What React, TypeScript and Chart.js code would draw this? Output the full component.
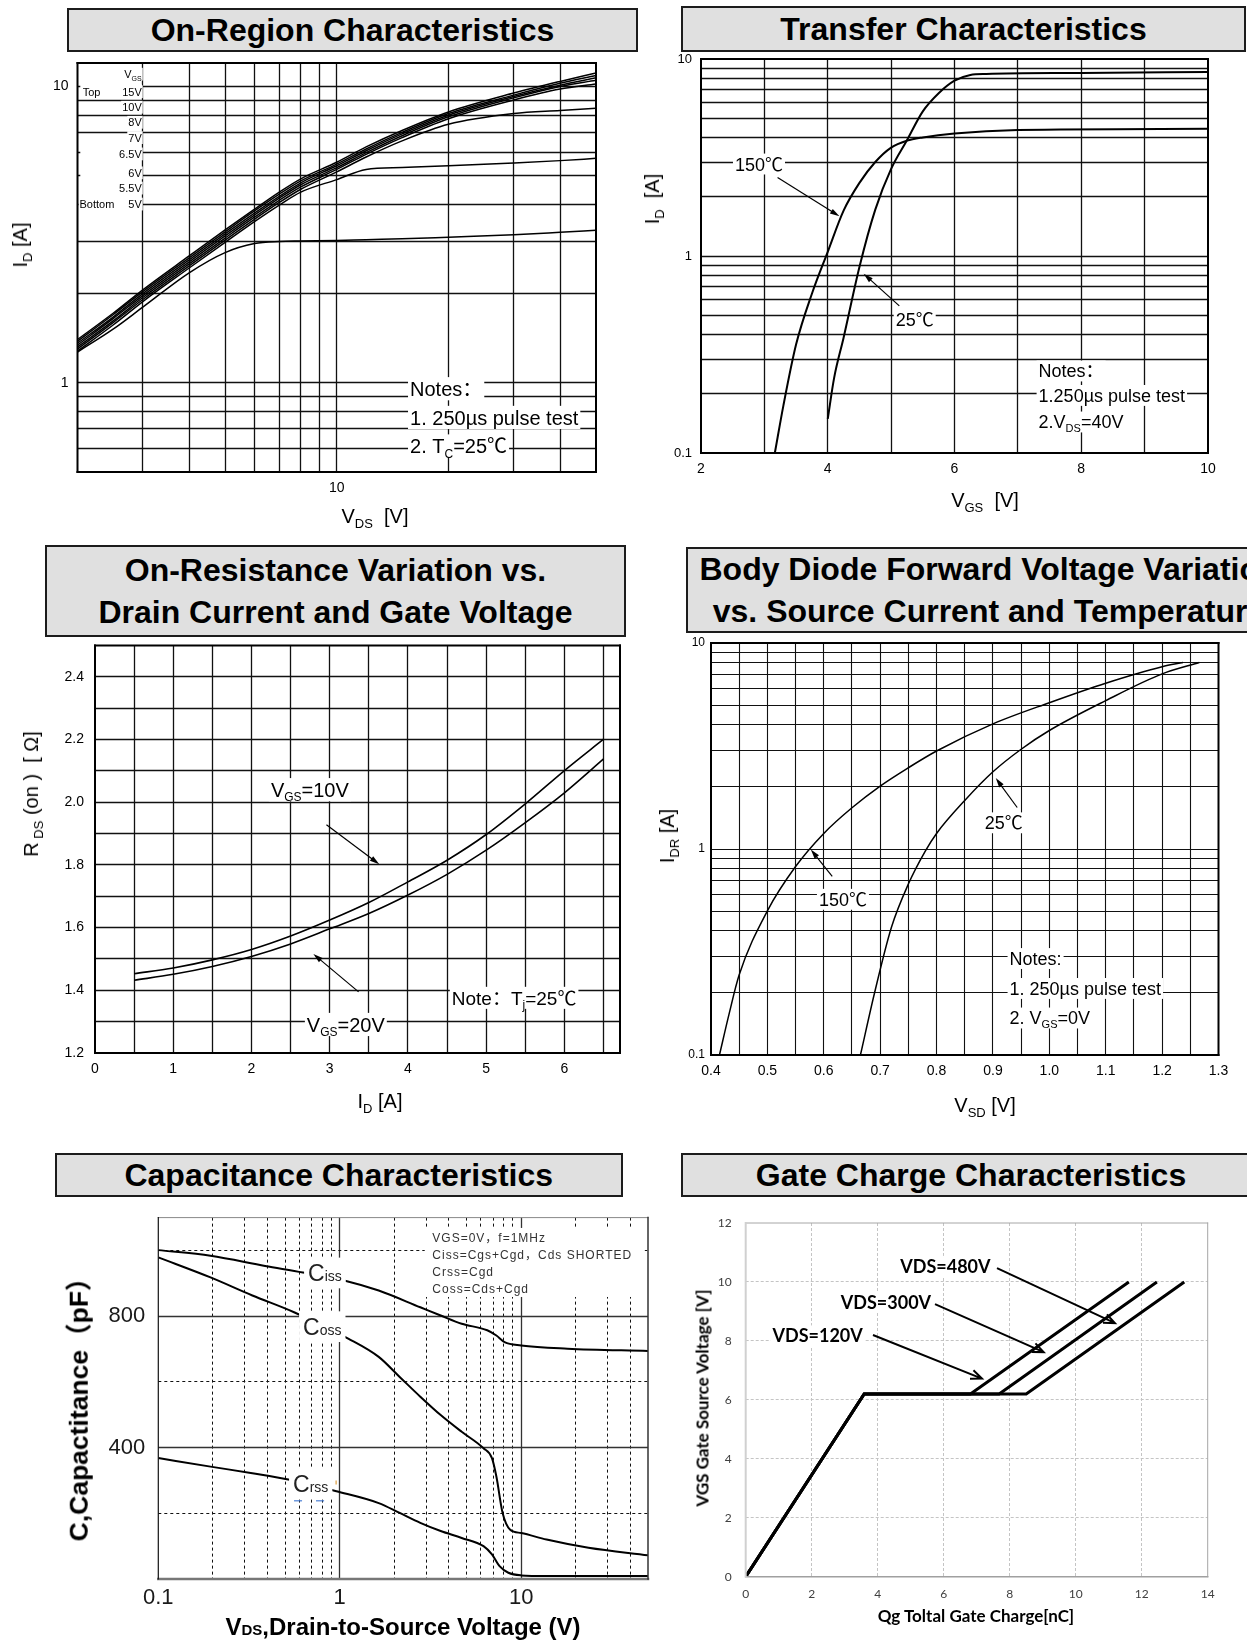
import React, { useEffect, useRef } from 'react';
import { Chart, registerables } from 'chart.js';

Chart.register(...registerables);

const ARIAL = "'Liberation Sans', Arial, Helvetica, 'Noto Sans CJK SC', sans-serif";
const LATO = "Lato, 'Open Sans', 'Liberation Sans', sans-serif";

// ================= DATA =================
// 1. On-Region Characteristics (log-log)
const onRegionVds = [2, 2.5, 3, 4, 5, 6, 7, 8, 10, 12, 15, 20, 30, 40, 50];
const onRegionId15V = [1.4, 1.72, 2.06, 2.68, 3.28, 3.85, 4.4, 4.88, 5.55, 6.25, 7.1, 8.2, 9.5, 10.4, 11.1];
const onRegionId10V = [1.38, 1.7, 2.03, 2.64, 3.23, 3.8, 4.33, 4.8, 5.47, 6.15, 7.0, 8.1, 9.35, 10.25, 10.9];
const onRegionId8V = [1.36, 1.67, 2.0, 2.6, 3.18, 3.74, 4.26, 4.73, 5.4, 6.07, 6.92, 8.0, 9.25, 10.1, 10.7];
const onRegionId7V = [1.34, 1.65, 1.97, 2.56, 3.13, 3.68, 4.2, 4.66, 5.32, 5.98, 6.82, 7.9, 9.15, 10.0, 10.5];
const onRegionId6V5 = [1.32, 1.62, 1.94, 2.52, 3.08, 3.62, 4.13, 4.58, 5.25, 5.9, 6.72, 7.78, 9.0, 9.8, 10.2];
const onRegionId6V = [1.3, 1.6, 1.91, 2.48, 3.03, 3.56, 4.06, 4.5, 5.15, 5.78, 6.55, 7.45, 8.1, 8.3, 8.45];
const onRegionId5V5 = [1.28, 1.57, 1.88, 2.44, 2.98, 3.5, 3.98, 4.4, 4.85, 5.25, 5.33, 5.4, 5.52, 5.62, 5.72];
const onRegionId5V = [1.27, 1.52, 1.8, 2.35, 2.75, 2.95, 3.0, 3.01, 3.02, 3.04, 3.06, 3.1, 3.16, 3.22, 3.27];
const onRegionXTicks = [10];
const onRegionYTicks = [1, 10];
const onRegionXGrid = [3, 4, 5, 6, 7, 8, 9, 10, 20, 30, 40];
const onRegionYGrid = [0.6, 0.7, 0.8, 0.9, 1, 2, 3, 4, 5, 6, 7, 8, 9, 10];

// 2. Transfer Characteristics
const transferVgs150 = [3.165, 3.3, 3.5, 3.75, 4.0, 4.25, 4.5, 4.75, 5.0, 5.25, 5.5, 6.0, 7.0, 10.0];
const transferId150 = [0.1, 0.174, 0.355, 0.643, 1.05, 1.7, 2.35, 3.0, 3.55, 3.85, 4.0, 4.19, 4.36, 4.42];
const transferVgs25 = [4.0, 4.1, 4.25, 4.5, 4.75, 5.0, 5.25, 5.5, 5.75, 6.0, 6.25, 6.5, 8.0, 10.0];
const transferId25 = [0.149, 0.24, 0.385, 0.88, 1.72, 2.77, 3.87, 5.42, 6.7, 7.76, 8.3, 8.4, 8.5, 8.6];
const transferXTicks = [2, 4, 6, 8, 10];
const transferYTicks = [0.1, 1, 10];
const transferXGrid = [3, 4, 5, 6, 7, 8, 9];
const logMinorGrid = [0.2, 0.3, 0.4, 0.5, 0.6, 0.7, 0.8, 0.9, 1, 2, 3, 4, 5, 6, 7, 8, 9];

// 3. On-Resistance vs Drain Current
const rdsId = [0.5, 1, 1.5, 2, 2.5, 3, 3.5, 4, 4.5, 5, 5.5, 6, 6.5];
const rdsVgs10 = [1.453, 1.471, 1.497, 1.53, 1.573, 1.624, 1.68, 1.746, 1.815, 1.897, 1.995, 2.101, 2.201];
const rdsVgs20 = [1.432, 1.451, 1.476, 1.508, 1.548, 1.596, 1.645, 1.704, 1.77, 1.847, 1.935, 2.03, 2.138];
const rdsXTicks = [0, 1, 2, 3, 4, 5, 6];
const rdsYTicks = [1.2, 1.4, 1.6, 1.8, 2.0, 2.2, 2.4];
const rdsXGrid = [0.5, 1, 1.5, 2, 2.5, 3, 3.5, 4, 4.5, 5, 5.5, 6, 6.5];
const rdsYGrid = [1.3, 1.4, 1.5, 1.6, 1.7, 1.8, 1.9, 2.0, 2.1, 2.2, 2.3, 2.4];

// 4. Body Diode Forward Voltage
const diodeVsd150 = [0.415, 0.432, 0.45, 0.5, 0.55, 0.6, 0.65, 0.7, 0.75, 0.8, 0.9, 1.0, 1.1, 1.2, 1.237];
const diodeIdr150 = [0.1, 0.158, 0.245, 0.501, 0.822, 1.19, 1.585, 2.02, 2.48, 2.99, 4.05, 5.13, 6.38, 7.67, 8.04];
const diodeVsd25 = [0.665, 0.69, 0.72, 0.75, 0.78, 0.8, 0.85, 0.9, 0.95, 1.0, 1.1, 1.2, 1.266];
const diodeIdr25 = [0.1, 0.2, 0.417, 0.676, 0.977, 1.19, 1.72, 2.37, 3.05, 3.76, 5.25, 7.08, 8.04];
const diodeXTicks = [0.4, 0.5, 0.6, 0.7, 0.8, 0.9, 1.0, 1.1, 1.2, 1.3];
const diodeYTicks = [0.1, 1, 10];
const diodeXGrid = [0.45, 0.5, 0.55, 0.6, 0.65, 0.7, 0.75, 0.8, 0.85, 0.9, 0.95, 1.0, 1.05, 1.1, 1.15, 1.2, 1.25];

// 5. Capacitance Characteristics
const capVdsCiss = [0.1, 0.194, 0.388, 0.626, 1.07, 1.64, 2.78, 3.6, 4.7, 6.5, 7.3, 8.1, 10, 18, 50];
const capCiss = [1001, 984, 953, 933, 908, 878, 827, 802, 777, 757, 741, 721, 711, 701, 694];
const capVdsCoss = [0.1, 0.194, 0.33, 0.56, 1.12, 1.64, 2.14, 2.78, 3.6, 4.7, 6.2, 6.9, 7.3, 7.9, 8.7, 10, 13.8, 23.5, 50];
const capCoss = [979, 918, 863, 812, 731, 676, 615, 555, 499, 448, 398, 368, 312, 201, 150, 140, 120, 95, 72];
const capVdsCrss = [0.1, 0.194, 0.33, 0.53, 0.96, 1.64, 2.14, 2.78, 3.6, 4.7, 6.2, 6.9, 7.6, 8.5, 10, 13.8, 50];
const capCrss = [368, 342, 322, 302, 267, 231, 201, 171, 146, 125, 100, 75, 39, 19, 11, 9, 9];
const capXTicks = [0.1, 1, 10];
const capYTicks = [400, 800];
const capXGridSolid = [1, 10];
const capXGridDash = [0.2, 0.3, 0.4, 0.5, 0.6, 0.7, 0.8, 0.9, 2, 3, 4, 5, 6, 7, 8, 9, 20, 30, 40];
const capYGridSolid = [400, 800];
const capYGridDash = [200, 600, 1000];

// 6. Gate Charge Characteristics
const gateQg120 = [0, 3.59, 6.81, 11.61];
const gateQg300 = [0, 3.59, 7.68, 12.46];
const gateQg480 = [0, 3.59, 8.5, 13.29];
const gateVgs = [0, 6.2, 6.2, 10];
const gateXTicks = [0, 2, 4, 6, 8, 10, 12, 14];
const gateYTicks = [0, 2, 4, 6, 8, 10, 12];
const gateXGrid = [2, 4, 6, 8, 10, 12];
const gateYGrid = [2, 4, 6, 8, 10];

// ================= TYPES & HELPERS =================
type Part = [string, 'n' | 's' | 'c'];
interface TextItem {
  x: number; y: number; parts: Part[]; size: number;
  align?: 'left' | 'center' | 'right'; bold?: boolean; family?: string;
  bg?: boolean; color?: string; padX?: number; padY?: number; ls?: number;
}
interface ArrowItem { x1: number; y1: number; x2: number; y2: number; head: 'fill' | 'open'; lw?: number; hl?: number; }
interface GridLine { v: number; dash?: boolean; }
interface Side { color: string; width: number; }
interface Mark { x1: number; y1: number; x2: number; y2: number; color: string; width: number; }
interface Deco {
  xGrid: GridLine[]; yGrid: GridLine[];
  solid: Side; dash?: Side & { pattern: number[] };
  frame: { top: Side; right: Side; bottom: Side; left: Side };
  texts: TextItem[]; arrows: ArrowItem[];
  whiteBoxes?: { x1: number; y1: number; x2: number; y2: number }[];
  marks?: Mark[];
}
interface AxisSpec {
  type: 'linear' | 'logarithmic'; min: number; max: number; ticks: number[];
  fmt: (v: number) => string; size: number; pad: number; color: string; family: string;
}
interface DS { xs: number[]; ys: number[]; width: number; smooth: boolean; }
interface PanelSpec {
  left: number; top: number; width: number; height: number;
  area: { l: number; t: number; r: number; b: number };
  x: AxisSpec; y: AxisSpec; datasets: DS[]; deco: Deco;
}

const solid = (vals: number[]): GridLine[] => vals.map((v) => ({ v }));
const dashed = (vals: number[]): GridLine[] => vals.map((v) => ({ v, dash: true }));
const snap = (p: number, w: number) => (Math.round(w) % 2 === 1 ? Math.floor(p) + 0.5 : Math.round(p));
const allSides = (color: string, width: number) => ({
  top: { color, width }, right: { color, width }, bottom: { color, width }, left: { color, width },
});

function drawRich(ctx: CanvasRenderingContext2D, it: TextItem, px: number, py: number) {
  const fam = it.family || ARIAL;
  const wt = it.bold ? 'bold ' : '';
  const small = Math.round(it.size * 0.62);
  const anyCtx = ctx as any;
  const ls = it.ls || 0;
  if ('letterSpacing' in anyCtx) anyCtx.letterSpacing = ls + 'px';
  const segs = it.parts.map(([t, k]) => {
    const sz = k === 'n' ? it.size : small;
    ctx.font = `${wt}${sz}px ${fam}`;
    return { t, k, sz, w: ctx.measureText(t).width };
  });
  const total = segs.reduce((a, s) => a + s.w, 0);
  const align = it.align || 'left';
  let x = align === 'center' ? px - total / 2 : align === 'right' ? px - total : px;
  if (it.bg) {
    const padX = it.padX ?? 2;
    const padY = it.padY ?? 0;
    ctx.fillStyle = '#fff';
    ctx.fillRect(x - padX, py - it.size * 0.58 - padY, total + 2 * padX, it.size * 1.16 + 2 * padY);
  }
  const base = py + it.size * 0.36;
  ctx.textAlign = 'left';
  ctx.textBaseline = 'alphabetic';
  ctx.fillStyle = it.color || '#000';
  for (const s of segs) {
    ctx.font = `${wt}${s.sz}px ${fam}`;
    const yy = s.k === 's' ? base + it.size * 0.22 : base;
    ctx.fillText(s.t, x, yy);
    x += s.w;
  }
  if ('letterSpacing' in anyCtx) anyCtx.letterSpacing = '0px';
}

function drawArrow(ctx: CanvasRenderingContext2D, x1: number, y1: number, x2: number, y2: number, a: ArrowItem) {
  const lw = a.lw ?? 1.2;
  const hl = a.hl ?? 10;
  const ang = Math.atan2(y2 - y1, x2 - x1);
  ctx.strokeStyle = '#000';
  ctx.fillStyle = '#000';
  ctx.lineWidth = lw;
  ctx.setLineDash([]);
  ctx.beginPath();
  if (a.head === 'fill') {
    ctx.moveTo(x1, y1);
    ctx.lineTo(x2 - Math.cos(ang) * hl * 0.8, y2 - Math.sin(ang) * hl * 0.8);
    ctx.stroke();
    ctx.beginPath();
    ctx.moveTo(x2, y2);
    ctx.lineTo(x2 - hl * Math.cos(ang - 0.28), y2 - hl * Math.sin(ang - 0.28));
    ctx.lineTo(x2 - hl * Math.cos(ang + 0.28), y2 - hl * Math.sin(ang + 0.28));
    ctx.closePath();
    ctx.fill();
  } else {
    ctx.moveTo(x1, y1);
    ctx.lineTo(x2, y2);
    ctx.moveTo(x2 - hl * Math.cos(ang - 0.4), y2 - hl * Math.sin(ang - 0.4));
    ctx.lineTo(x2, y2);
    ctx.lineTo(x2 - hl * Math.cos(ang + 0.4), y2 - hl * Math.sin(ang + 0.4));
    ctx.stroke();
  }
}

function decoPlugin(d: Deco) {
  return {
    id: 'deco',
    beforeDatasetsDraw(chart: any) {
      const ctx: CanvasRenderingContext2D = chart.ctx;
      const a = chart.chartArea;
      const sx = chart.scales.x;
      const sy = chart.scales.y;
      ctx.save();
      const styleOf = (g: GridLine) => (g.dash && d.dash ? d.dash : d.solid);
      for (const g of d.xGrid) {
        const st = styleOf(g);
        const p = snap(sx.getPixelForValue(g.v), st.width);
        ctx.beginPath();
        ctx.setLineDash(g.dash && d.dash ? d.dash.pattern : []);
        ctx.strokeStyle = st.color;
        ctx.lineWidth = st.width;
        ctx.moveTo(p, a.top);
        ctx.lineTo(p, a.bottom);
        ctx.stroke();
      }
      for (const g of d.yGrid) {
        const st = styleOf(g);
        const p = snap(sy.getPixelForValue(g.v), st.width);
        ctx.beginPath();
        ctx.setLineDash(g.dash && d.dash ? d.dash.pattern : []);
        ctx.strokeStyle = st.color;
        ctx.lineWidth = st.width;
        ctx.moveTo(a.left, p);
        ctx.lineTo(a.right, p);
        ctx.stroke();
      }
      ctx.setLineDash([]);
      for (const b of d.whiteBoxes || []) {
        const x1 = sx.getPixelForValue(b.x1);
        const x2 = sx.getPixelForValue(b.x2);
        const y1 = sy.getPixelForValue(b.y1);
        const y2 = sy.getPixelForValue(b.y2);
        ctx.fillStyle = '#fff';
        ctx.fillRect(Math.min(x1, x2), Math.min(y1, y2), Math.abs(x2 - x1), Math.abs(y2 - y1));
      }
      ctx.restore();
    },
    afterDatasetsDraw(chart: any) {
      const ctx: CanvasRenderingContext2D = chart.ctx;
      const sx = chart.scales.x;
      const sy = chart.scales.y;
      ctx.save();
      for (const t of d.texts) drawRich(ctx, t, sx.getPixelForValue(t.x), sy.getPixelForValue(t.y));
      for (const ar of d.arrows) {
        drawArrow(ctx, sx.getPixelForValue(ar.x1), sy.getPixelForValue(ar.y1), sx.getPixelForValue(ar.x2), sy.getPixelForValue(ar.y2), ar);
      }
      for (const m of d.marks || []) {
        ctx.beginPath();
        ctx.strokeStyle = m.color;
        ctx.lineWidth = m.width;
        ctx.moveTo(sx.getPixelForValue(m.x1), sy.getPixelForValue(m.y1));
        ctx.lineTo(sx.getPixelForValue(m.x2), sy.getPixelForValue(m.y2));
        ctx.stroke();
      }
      ctx.restore();
    },
    afterDraw(chart: any) {
      const ctx: CanvasRenderingContext2D = chart.ctx;
      const a = chart.chartArea;
      const f = d.frame;
      ctx.save();
      ctx.setLineDash([]);
      ctx.lineCap = 'square';
      const line = (s: Side, x1: number, y1: number, x2: number, y2: number) => {
        ctx.beginPath();
        ctx.strokeStyle = s.color;
        ctx.lineWidth = s.width;
        ctx.moveTo(x1, y1);
        ctx.lineTo(x2, y2);
        ctx.stroke();
      };
      line(f.top, a.left, a.top, a.right, a.top);
      line(f.bottom, a.left, a.bottom, a.right, a.bottom);
      line(f.left, a.left, a.top, a.left, a.bottom);
      line(f.right, a.right, a.top, a.right, a.bottom);
      ctx.restore();
    },
  };
}

function axisCfg(a: AxisSpec, which: 'x' | 'y', size: number) {
  return {
    type: a.type,
    min: a.min,
    max: a.max,
    position: which === 'x' ? 'bottom' : 'left',
    grid: { display: false, drawTicks: false },
    border: { display: false },
    ticks: {
      autoSkip: false,
      maxRotation: 0,
      minRotation: 0,
      padding: a.pad,
      color: a.color,
      font: { family: a.family, size: a.size },
      callback: (v: any) => a.fmt(Number(v)),
    },
    afterBuildTicks: (s: any) => {
      s.ticks = a.ticks.map((v) => ({ value: v }));
    },
    afterFit: (s: any) => {
      if (which === 'x') s.height = size;
      else s.width = size;
      s.paddingTop = 0;
      s.paddingBottom = 0;
      s.paddingLeft = 0;
      s.paddingRight = 0;
    },
  };
}

function makeConfig(p: PanelSpec): any {
  const yW = p.area.l - p.left;
  const xH = p.top + p.height - p.area.b;
  return {
    type: 'scatter',
    data: {
      datasets: p.datasets.map((ds) => ({
        data: ds.xs.map((x, i) => ({ x, y: ds.ys[i] })),
        showLine: true,
        borderColor: '#000',
        backgroundColor: '#000',
        borderWidth: ds.width,
        pointRadius: 0,
        pointHoverRadius: 0,
        fill: false,
        tension: 0,
        cubicInterpolationMode: ds.smooth ? 'monotone' : 'default',
      })),
    },
    options: {
      responsive: false,
      animation: false,
      devicePixelRatio: 1,
      events: [],
      layout: { padding: { left: 0, top: p.area.t - p.top, right: p.left + p.width - p.area.r, bottom: 0 } },
      plugins: { legend: { display: false }, tooltip: { enabled: false }, title: { display: false } },
      scales: { x: axisCfg(p.x, 'x', xH), y: axisCfg(p.y, 'y', yW) },
    },
    plugins: [decoPlugin(p.deco)],
  };
}

const str = (v: number) => String(v);
const fix1 = (v: number) => v.toFixed(1);
const black = '#000';

// ================= PANEL SPECS =================
const t11 = (x: number, y: number, s: string, align: 'left' | 'right' = 'right'): TextItem => ({
  x, y, parts: [[s, 'n']], size: 11, align, bg: true, padX: 1, padY: 0,
});

const panel1: PanelSpec = {
  left: 0, top: 52, width: 640, height: 478,
  area: { l: 77.5, t: 63, r: 596, b: 472 },
  x: { type: 'logarithmic', min: 2, max: 50, ticks: onRegionXTicks, fmt: str, size: 14, pad: 8, color: black, family: ARIAL },
  y: { type: 'logarithmic', min: 0.5, max: 12, ticks: onRegionYTicks, fmt: str, size: 14, pad: 9, color: black, family: ARIAL },
  datasets: [onRegionId15V, onRegionId10V, onRegionId8V, onRegionId7V, onRegionId6V5, onRegionId6V, onRegionId5V5, onRegionId5V].map(
    (ys) => ({ xs: onRegionVds, ys, width: 1.5, smooth: true })
  ),
  deco: {
    xGrid: solid(onRegionXGrid), yGrid: solid(onRegionYGrid),
    solid: { color: '#111', width: 1.3 },
    frame: allSides('#000', 2),
    whiteBoxes: [
      { x1: 2.035, y1: 9.85, x2: 2.985, y2: 10.16 },
      { x1: 2.035, y1: 5.91, x2: 2.985, y2: 6.09 },
      { x1: 2.035, y1: 4.92, x2: 2.985, y2: 5.08 },
      { x1: 2.035, y1: 3.94, x2: 2.985, y2: 4.06 },
    ],
    texts: [
      { x: 2.98, y: 11.0, parts: [['V', 'n'], ['GS', 's']], size: 11, align: 'right', bg: true, padX: 1 },
      t11(2.98, 9.6, '15V'), t11(2.065, 9.6, 'Top', 'left'),
      t11(2.98, 8.51, '10V'), t11(2.98, 7.57, '8V'), t11(2.98, 6.72, '7V'), t11(2.98, 5.92, '6.5V'),
      t11(2.98, 5.11, '6V'), t11(2.98, 4.54, '5.5V'), t11(2.98, 4.01, '5V'), t11(2.025, 4.01, 'Bottom', 'left'),
      { x: 15.76, y: 0.955, parts: [['Notes：', 'n']], size: 20, bg: true },
      { x: 15.76, y: 0.764, parts: [['1. 250µs pulse test', 'n']], size: 20, bg: true },
      { x: 15.76, y: 0.612, parts: [['2. T', 'n'], ['C', 's'], ['=25℃', 'n']], size: 20, bg: true },
    ],
    arrows: [],
  },
};

const panel2: PanelSpec = {
  left: 640, top: 50, width: 607, height: 480,
  area: { l: 701, t: 59, r: 1208, b: 453 },
  x: { type: 'linear', min: 2, max: 10, ticks: transferXTicks, fmt: str, size: 14, pad: 8, color: black, family: ARIAL },
  y: { type: 'logarithmic', min: 0.1, max: 10, ticks: transferYTicks, fmt: str, size: 13, pad: 9, color: black, family: ARIAL },
  datasets: [
    { xs: transferVgs150, ys: transferId150, width: 2, smooth: true },
    { xs: transferVgs25, ys: transferId25, width: 2, smooth: true },
  ],
  deco: {
    xGrid: solid(transferXGrid), yGrid: solid(logMinorGrid),
    solid: { color: '#111', width: 1.3 },
    frame: allSides('#000', 2),
    texts: [
      { x: 2.915, y: 2.93, parts: [['150℃', 'n']], size: 18, align: 'center', bg: true },
      { x: 5.372, y: 0.4766, parts: [['25℃', 'n']], size: 18, align: 'center', bg: true },
      { x: 7.327, y: 0.2608, parts: [['Notes：', 'n']], size: 18, bg: true },
      { x: 7.327, y: 0.196, parts: [['1.250µs pulse test', 'n']], size: 18, bg: true },
      { x: 7.327, y: 0.1437, parts: [['2.V', 'n'], ['DS', 's'], ['=40V', 'n']], size: 18, bg: true },
    ],
    arrows: [
      { x1: 3.208, y1: 2.503, x2: 4.185, y2: 1.59, head: 'fill' },
      { x1: 5.129, y1: 0.558, x2: 4.567, y2: 0.812, head: 'fill' },
    ],
  },
};

const panel3: PanelSpec = {
  left: 0, top: 638, width: 640, height: 492,
  area: { l: 95, t: 645.5, r: 620, b: 1053 },
  x: { type: 'linear', min: 0, max: 6.71, ticks: rdsXTicks, fmt: str, size: 14, pad: 8, color: black, family: ARIAL },
  y: { type: 'linear', min: 1.2, max: 2.5, ticks: rdsYTicks, fmt: fix1, size: 14, pad: 11, color: black, family: ARIAL },
  datasets: [
    { xs: rdsId, ys: rdsVgs10, width: 1.6, smooth: true },
    { xs: rdsId, ys: rdsVgs20, width: 1.6, smooth: true },
  ],
  deco: {
    xGrid: solid(rdsXGrid), yGrid: solid(rdsYGrid),
    solid: { color: '#111', width: 1.3 },
    frame: allSides('#000', 2),
    texts: [
      { x: 2.746, y: 2.04, parts: [['V', 'n'], ['GS', 's'], ['=10V', 'n']], size: 20, align: 'center', bg: true },
      { x: 3.206, y: 1.291, parts: [['V', 'n'], ['GS', 's'], ['=20V', 'n']], size: 20, align: 'center', bg: true },
      { x: 4.56, y: 1.376, parts: [['Note：T', 'n'], ['j', 's'], ['=25℃', 'n']], size: 19, bg: true },
    ],
    arrows: [
      { x1: 2.958, y1: 1.928, x2: 3.633, y2: 1.802, head: 'fill' },
      { x1: 3.369, y1: 1.395, x2: 2.791, y2: 1.516, head: 'fill' },
    ],
  },
};

const panel4: PanelSpec = {
  left: 640, top: 636, width: 607, height: 494,
  area: { l: 711, t: 643, r: 1218.5, b: 1055 },
  x: { type: 'linear', min: 0.4, max: 1.3, ticks: diodeXTicks, fmt: fix1, size: 14, pad: 8, color: black, family: ARIAL },
  y: { type: 'logarithmic', min: 0.1, max: 10, ticks: diodeYTicks, fmt: str, size: 12, pad: 6, color: black, family: ARIAL },
  datasets: [
    { xs: diodeVsd150, ys: diodeIdr150, width: 1.5, smooth: true },
    { xs: diodeVsd25, ys: diodeIdr25, width: 1.5, smooth: true },
  ],
  deco: {
    xGrid: solid(diodeXGrid), yGrid: solid(logMinorGrid),
    solid: { color: '#111', width: 1.1 },
    frame: allSides('#000', 2),
    texts: [
      { x: 0.919, y: 1.34, parts: [['25℃', 'n']], size: 18, align: 'center', bg: true },
      { x: 0.634, y: 0.57, parts: [['150℃', 'n']], size: 18, align: 'center', bg: true },
      { x: 0.9295, y: 0.294, parts: [['Notes:', 'n']], size: 18, bg: true },
      { x: 0.9295, y: 0.2104, parts: [['1. 250µs pulse test', 'n']], size: 18, bg: true },
      { x: 0.9295, y: 0.1512, parts: [['2. V', 'n'], ['GS', 's'], ['=0V', 'n']], size: 18, bg: true },
    ],
    arrows: [
      { x1: 0.943, y1: 1.59, x2: 0.905, y2: 2.21, head: 'fill' },
      { x1: 0.615, y1: 0.737, x2: 0.577, y2: 0.994, head: 'fill' },
    ],
  },
};

const capLabel = (x: number, y: number, sub: string): TextItem => ({
  x, y, parts: [['C', 'n'], [sub, 'c']], size: 23, bg: true, padX: 4, padY: 2, color: '#222',
});
const capLegend = (y: number, s: string): TextItem => ({
  x: 3.237, y, parts: [[s, 'n']], size: 12, color: '#333', ls: 1,
});

const panel5: PanelSpec = {
  left: 0, top: 1200, width: 660, height: 445,
  area: { l: 158.3, t: 1217.6, r: 648, b: 1579 },
  x: { type: 'logarithmic', min: 0.1, max: 50, ticks: capXTicks, fmt: str, size: 22, pad: 6, color: '#1a1a1a', family: ARIAL },
  y: { type: 'linear', min: 0, max: 1100, ticks: capYTicks, fmt: str, size: 22, pad: 13, color: '#1a1a1a', family: ARIAL },
  datasets: [
    { xs: capVdsCiss, ys: capCiss, width: 2, smooth: true },
    { xs: capVdsCoss, ys: capCoss, width: 2, smooth: true },
    { xs: capVdsCrss, ys: capCrss, width: 2, smooth: true },
  ],
  deco: {
    xGrid: [...solid(capXGridSolid), ...dashed(capXGridDash)],
    yGrid: [...solid(capYGridSolid), ...dashed(capYGridDash)],
    solid: { color: '#333', width: 1.3 },
    dash: { color: '#111', width: 1, pattern: [3, 3] },
    frame: {
      top: { color: '#888', width: 1 }, right: { color: '#333', width: 1.5 },
      bottom: { color: '#777', width: 2.5 }, left: { color: '#111', width: 1.2 },
    },
    whiteBoxes: [{ x1: 2.94, y1: 1068.5, x2: 48, y2: 858.4 }],
    texts: [
      capLegend(1040, 'VGS=0V，f=1MHz'),
      capLegend(986, 'Ciss=Cgs+Cgd，Cds SHORTED'),
      capLegend(935.5, 'Crss=Cgd'),
      capLegend(882.8, 'Coss=Cds+Cgd'),
      capLabel(0.669, 931.5, 'iss'),
      capLabel(0.628, 768, 'oss'),
      capLabel(0.553, 291, 'rss'),
    ],
    marks: [
      { x1: 0.56, y1: 238, x2: 0.62, y2: 238, color: '#4a7fd4', width: 1.2 },
      { x1: 0.74, y1: 238, x2: 0.82, y2: 238, color: '#4a7fd4', width: 1.2 },
      { x1: 0.955, y1: 300, x2: 0.955, y2: 288, color: '#e0a040', width: 1.2 },
    ],
    arrows: [],
  },
};

const gateLabel = (x: number, y: number, s: string): TextItem => ({
  x, y, parts: [[s, 'n']], size: 18, bold: true, family: LATO, align: 'center', bg: true, padX: 2,
});

const panel6: PanelSpec = {
  left: 660, top: 1200, width: 587, height: 445,
  area: { l: 745.7, t: 1223, r: 1207.7, b: 1576.7 },
  x: { type: 'linear', min: 0, max: 14, ticks: gateXTicks, fmt: str, size: 12, pad: 10, color: '#404040', family: LATO },
  y: { type: 'linear', min: 0, max: 12, ticks: gateYTicks, fmt: str, size: 12, pad: 14, color: '#404040', family: LATO },
  datasets: [
    { xs: gateQg120, ys: gateVgs, width: 3, smooth: false },
    { xs: gateQg300, ys: gateVgs, width: 3, smooth: false },
    { xs: gateQg480, ys: gateVgs, width: 3, smooth: false },
  ],
  deco: {
    xGrid: dashed(gateXGrid), yGrid: dashed(gateYGrid),
    solid: { color: '#c4c4c4', width: 1 },
    dash: { color: '#c4c4c4', width: 1, pattern: [3, 2] },
    frame: {
      top: { color: '#a6a6a6', width: 1 }, right: { color: '#a6a6a6', width: 1 },
      bottom: { color: '#a0a0a0', width: 1.5 }, left: { color: '#d0d0d0', width: 2 },
    },
    texts: [
      gateLabel(6.05, 10.53, 'VDS=480V'),
      gateLabel(4.25, 9.31, 'VDS=300V'),
      gateLabel(2.18, 8.17, 'VDS=120V'),
    ],
    arrows: [
      { x1: 7.615, y1: 10.47, x2: 11.19, y2: 8.6, head: 'open', lw: 2, hl: 12 },
      { x1: 5.736, y1: 9.25, x2: 9.03, y2: 7.62, head: 'open', lw: 2, hl: 12 },
      { x1: 3.857, y1: 8.2, x2: 7.16, y2: 6.72, head: 'open', lw: 2, hl: 12 },
    ],
  },
};

const panels = [panel1, panel2, panel3, panel4, panel5, panel6];

// ================= COMPONENTS =================
function ChartCanvas({ spec }: { spec: PanelSpec }) {
  const ref = useRef<HTMLCanvasElement>(null);
  useEffect(() => {
    const c = new Chart(ref.current as HTMLCanvasElement, makeConfig(spec));
    return () => c.destroy();
  }, [spec]);
  return (
    <canvas
      ref={ref}
      width={spec.width}
      height={spec.height}
      style={{ position: 'absolute', left: spec.left, top: spec.top, width: spec.width, height: spec.height }}
    />
  );
}

function TitleBox({ left, top, width, height, lines }: { left: number; top: number; width: number; height: number; lines: string[] }) {
  return (
    <div
      style={{
        position: 'absolute', left, top, width, height, boxSizing: 'border-box',
        border: '2px solid #1c1c1c', background: '#e0e0e0',
        display: 'flex', flexDirection: 'column', alignItems: 'center', justifyContent: 'center',
        fontFamily: ARIAL, fontWeight: 'bold', fontSize: 32, lineHeight: '42px', color: '#000', whiteSpace: 'nowrap',
      }}
    >
      {lines.map((l) => (
        <div key={l}>{l}</div>
      ))}
    </div>
  );
}

function Txt({ x, y, rot, size, bold, family, color, children }: any) {
  return (
    <div
      style={{
        position: 'absolute', left: x, top: y,
        transform: `translate(-50%, -50%)${rot ? ' rotate(-90deg)' : ''}`,
        fontSize: size, fontWeight: bold ? 'bold' : 'normal', fontFamily: family || ARIAL,
        color: color || '#000', whiteSpace: 'nowrap', lineHeight: 1,
      }}
    >
      {children}
    </div>
  );
}

const Sub = ({ t, s }: { t: string; s: number }) => (
  <span style={{ fontSize: s, position: 'relative', top: '0.35em' }}>{t}</span>
);
const Sc = ({ t, s }: { t: string; s: number }) => <span style={{ fontSize: s }}>{t}</span>;

export default function App() {
  return (
    <div
      style={{
        position: 'absolute', left: 0, top: 0, width: 1247, height: 1645, overflow: 'hidden',
        background: '#fff', fontFamily: ARIAL,
      }}
    >
      {panels.map((p, i) => (
        <ChartCanvas key={i} spec={p} />
      ))}

      <TitleBox left={67} top={7.5} width={571} height={44.5} lines={['On-Region Characteristics']} />
      <TitleBox left={681} top={5.5} width={565} height={46.5} lines={['Transfer Characteristics']} />
      <TitleBox left={45} top={544.5} width={581} height={92} lines={['On-Resistance Variation vs.', 'Drain Current and Gate Voltage']} />
      <TitleBox left={686} top={547} width={606} height={86} lines={['Body Diode Forward Voltage Variation', 'vs. Source Current and Temperature']} />
      <TitleBox left={54.5} top={1153} width={568.5} height={44} lines={['Capacitance Characteristics']} />
      <TitleBox left={681} top={1153} width={580} height={44} lines={['Gate Charge Characteristics']} />

      {/* Panel 1 axis titles */}
      <Txt x={20} y={245} rot size={20}>I<Sub t="D" s={13} /> [A]</Txt>
      <Txt x={375} y={516} size={20}>V<Sub t="DS" s={13} />&nbsp; [V]</Txt>

      {/* Panel 2 axis titles */}
      <Txt x={651.5} y={199} rot size={20}>I<Sub t="D" s={13} />&nbsp; [A]</Txt>
      <Txt x={985} y={500} size={20}>V<Sub t="GS" s={13} />&nbsp; [V]</Txt>

      {/* Panel 3 axis titles */}
      <Txt x={31} y={794} rot size={20}>R<Sub t=" DS" s={13} /> (on )&nbsp; [ Ω]</Txt>
      <Txt x={380} y={1101} size={20}>I<Sub t="D" s={13} /> [A]</Txt>

      {/* Panel 4 axis titles */}
      <Txt x={667} y={836} rot size={20}>I<Sub t="DR" s={13} /> [A]</Txt>
      <Txt x={985} y={1105} size={20}>V<Sub t="SD" s={13} /> [V]</Txt>

      {/* Panel 5 axis titles */}
      <Txt x={79} y={1403} rot size={26.5} bold>C,Capactitance（pF）</Txt>
      <Txt x={403} y={1627} size={24} bold>V<Sc t="DS" s={15} />,Drain-to-Source Voltage (V)</Txt>

      {/* Panel 6 axis titles */}
      <Txt x={702} y={1398} rot size={17} bold family={LATO}>VGS Gate Source Voltage [V]</Txt>
      <Txt x={976} y={1615} size={17} bold family={LATO}>Qg Toltal Gate Charge[nC]</Txt>
    </div>
  );
}
